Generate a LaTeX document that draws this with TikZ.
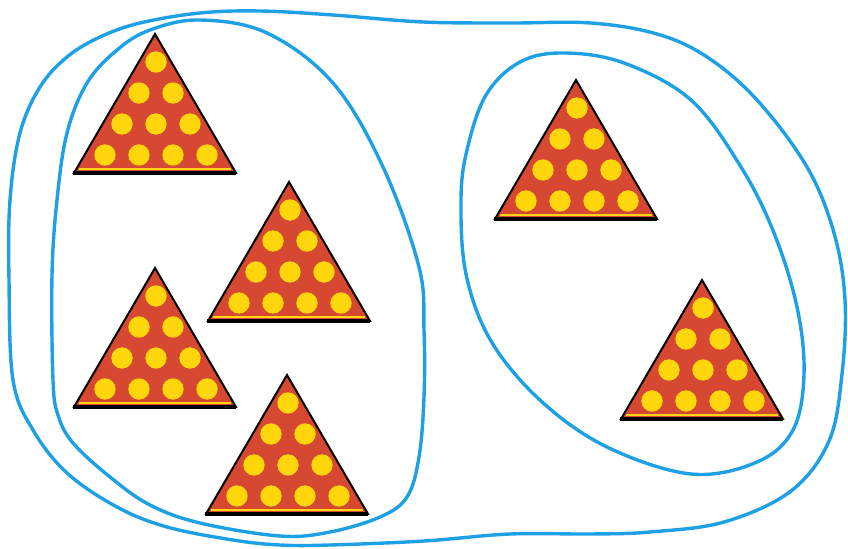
\documentclass[tikz,border=0pt]{standalone}
\usetikzlibrary{calc}
\definecolor{slice}{RGB}{214,72,50}
\definecolor{spot}{RGB}{255,214,12}
\definecolor{ring}{RGB}{30,160,228}

\begin{document}
\begin{tikzpicture}[x=0.3mm,y=-0.3mm,
  blob/.style={draw=ring,line width=2.9pt,line join=round},
  pie/.style={fill=slice,draw=black,line width=1.7pt,line join=miter}]
\useasboundingbox (0,0) rectangle (848,549);
% outer set
\draw[blob] plot[smooth cycle,tension=0.6] coordinates {
  (9,280) (10,200) (20,133) (40,87) (67,57) (100,37) (140,23) (200,13)
  (260,11) (333,15) (423,22) (510,23) (591,23) (657,34) (707,57)
  (757,100) (807,167) (834,233) (845,300) (842,374) (829,441) (791,491)
  (724,522) (650,532) (591,534) (510,534) (424,541) (330,545) (280,545)
  (233,540) (167,527) (117,507) (67,473) (33,430) (13,380)};
% left set
\draw[blob] plot[smooth cycle,tension=0.6] coordinates {
  (200,20) (267,33) (333,83) (383,167) (419,267) (424,330) (424,397)
  (419,457) (407,497) (380,517) (330,532) (280,536) (200,523) (150,505)
  (110,477) (73,443) (58,415) (53,380) (52,275) (57,200) (67,133)
  (87,83) (117,50) (150,30)};
% right set
\draw[blob] plot[smooth cycle,tension=0.6] coordinates {
  (564,53) (624,63) (691,100) (741,167) (774,233) (797,307) (804,374)
  (793,430) (757,462) (691,474) (607,447) (541,401) (491,341) (466,274)
  (461,200) (467,150) (486,95) (520,62)};
% the triangles
\foreach \p/\ax/\ay in {t1/155/34, t2/289/182, t3/155/268,
                        t4/287/375, t5/576/80, t6/702/280} {
  \coordinate (\p) at (\ax,\ay);
  \draw[pie] (\p) -- ++(81,139) -- ++(-162,0) -- cycle;
  \draw[spot,line width=0.9pt] ($(\p)+(-76,135)$) -- ($(\p)+(76,135)$);
  \draw[black,line width=2.6pt] ($(\p)+(-82,139)$) -- ($(\p)+(81,139)$);
  \foreach \k in {0,...,3}
    \foreach \i in {0,...,\k}
      \fill[spot] ($(\p)+({(\i-\k/2)*34+1},{28+31*\k})$) circle (3.2mm);
}
\end{tikzpicture}
\end{document}
